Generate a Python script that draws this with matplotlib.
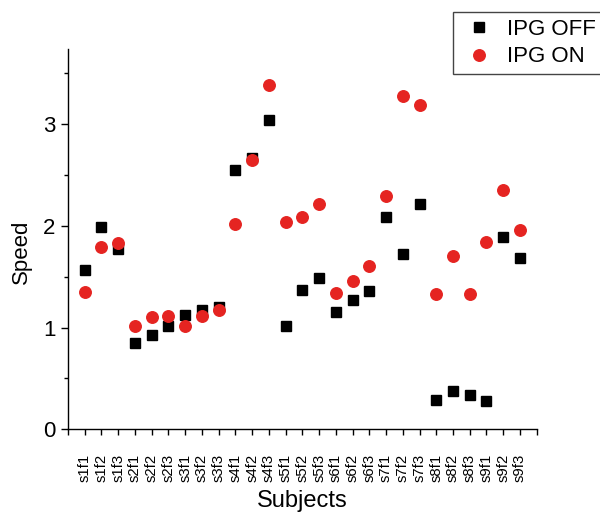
import matplotlib.pyplot as plt
from matplotlib.ticker import MultipleLocator

plt.rcParams["font.family"] = ["Liberation Sans", "DejaVu Sans"]

subjects = [
    "s1f1", "s1f2", "s1f3", "s2f1", "s2f2", "s2f3", "s3f1", "s3f2", "s3f3",
    "s4f1", "s4f2", "s4f3", "s5f1", "s5f2", "s5f3", "s6f1", "s6f2", "s6f3",
    "s7f1", "s7f2", "s7f3", "s8f1", "s8f2", "s8f3", "s9f1", "s9f2", "s9f3",
]
speed_off = [
    1.57, 1.99, 1.77, 0.85, 0.93, 1.02, 1.12, 1.17, 1.20,
    2.55, 2.67, 3.04, 1.02, 1.37, 1.49, 1.15, 1.27, 1.36,
    2.09, 1.72, 2.22, 0.29, 0.38, 0.34, 0.28, 1.89, 1.68,
]
speed_on = [
    1.35, 1.79, 1.83, 1.02, 1.10, 1.11, 1.02, 1.11, 1.17,
    2.02, 2.65, 3.39, 2.04, 2.09, 2.22, 1.34, 1.46, 1.61,
    2.29, 3.28, 3.19, 1.33, 1.70, 1.33, 1.84, 2.35, 1.96,
]

x = list(range(1, len(subjects) + 1))

fig = plt.figure(figsize=(6.0, 5.13), dpi=100)
ax = fig.add_axes([0.1133, 0.1632, 0.7812, 0.7413])

ax.plot(x, speed_off, linestyle="none", marker="s", markersize=7.6,
        color="black", label="IPG OFF")
ax.plot(x, speed_on, linestyle="none", marker="o", markersize=8.3,
        color="#e52421", label="IPG ON")

ax.set_xlim(0, 28)
ax.set_ylim(0, 3.74)
ax.set_xticks(range(0, 29))
ax.set_xticklabels([""] + subjects + [""], rotation=90, fontsize=10.7)
ax.yaxis.set_major_locator(MultipleLocator(1))
ax.yaxis.set_minor_locator(MultipleLocator(0.5))
ax.tick_params(axis="y", which="major", labelsize=16, length=5, width=1, pad=4)
ax.tick_params(axis="y", which="minor", length=3, width=1)
ax.tick_params(axis="x", length=4.5, width=1, pad=13)

for side in ("top", "right"):
    ax.spines[side].set_visible(False)
for side in ("left", "bottom"):
    ax.spines[side].set_linewidth(1.0)

ax.set_xlabel("Subjects", fontsize=17)
ax.set_ylabel("Speed", fontsize=16)
ax.xaxis.set_label_coords(0.5, -0.16)
ax.yaxis.set_label_coords(-0.076, 0.466)

# legend sits above the plot area, running off the right edge of the figure
fig.legend(loc="upper left", bbox_to_anchor=(453 / 600, 1 - 12 / 513),
           fontsize=16, frameon=True, fancybox=False, edgecolor="#444444",
           framealpha=1, handlelength=1.74, handletextpad=0.39,
           labelspacing=0.3, borderpad=0.3, borderaxespad=0)

fig.savefig("out.png", dpi=100)
